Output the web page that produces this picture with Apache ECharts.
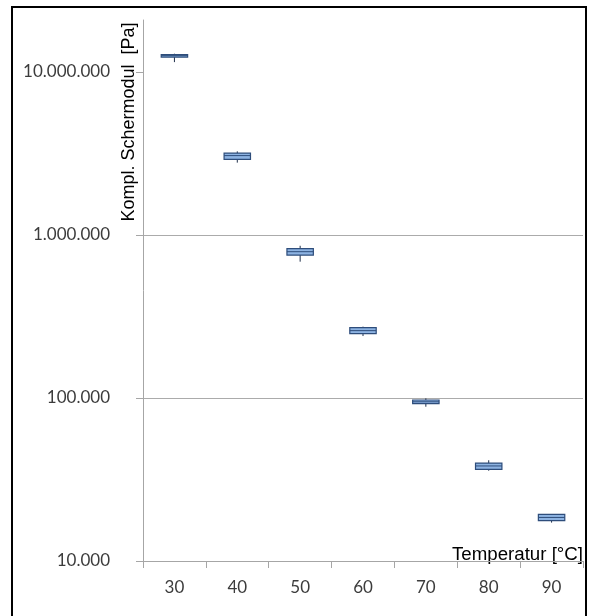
<!DOCTYPE html>
<html>
<head>
<meta charset="utf-8">
<script src="https://cdn.jsdelivr.net/npm/echarts@6/dist/echarts.min.js"></script>
<style>
  html, body { margin: 0; padding: 0; background: #ffffff; }
  #chart { width: 591px; height: 616px; }
</style>
</head>
<body>
<div id="chart"></div>
<script>
// Temperatures (°C) along the category axis
const temperatures = ['30', '40', '50', '60', '70', '80', '90'];

// Complex shear modulus [Pa] per temperature: min, Q1, median, Q3, max
const modulusMin    = [11500000, 2780000, 686000, 240000, 88400, 35800, 17200];
const modulusQ1     = [12350000, 2910000, 753000, 248000, 92300, 36500, 17700];
const modulusMedian = [12600000, 3070000, 790000, 259000, 94800, 38300, 18500];
const modulusQ3     = [12800000, 3180000, 824000, 270000, 97200, 39900, 19300];
const modulusMax    = [12950000, 3260000, 859000, 274000, 99500, 41500, 19400];

// Decade ticks of the logarithmic value axis
const yTicks = [10000, 100000, 1000000, 10000000];

const boxData = temperatures.map((t, i) => [
  i, modulusMin[i], modulusQ1[i], modulusMedian[i], modulusQ3[i], modulusMax[i]
]);

// German thousands separator: 10.000.000
function formatDE(v) {
  return Math.round(v).toString().replace(/\B(?=(\d{3})+(?!\d))/g, '.');
}

const chart = echarts.init(document.getElementById('chart'), null, { renderer: 'canvas' });

chart.setOption({
  animation: false,
  backgroundColor: '#ffffff',
  grid: { left: 143, right: 8, top: 20, bottom: 55, containLabel: false },
  xAxis: {
    type: 'category',
    data: temperatures,
    boundaryGap: true,
    axisLine: { show: true, lineStyle: { color: '#a6a6a6', width: 1 } },
    axisTick: { show: true, length: 7, alignWithLabel: false, lineStyle: { color: '#a6a6a6' } },
    axisLabel: { margin: 18, color: '#3c3c3c', fontFamily: 'Lato', fontSize: 17 },
    splitLine: { show: false }
  },
  yAxis: {
    type: 'log',
    logBase: 10,
    min: 10000,
    max: 20850000,
    axisLine: { show: true, lineStyle: { color: '#a6a6a6', width: 1 } },
    axisTick: { show: true, length: 7, customValues: yTicks, lineStyle: { color: '#a6a6a6' } },
    axisLabel: {
      customValues: yTicks,
      margin: 33,
      color: '#3c3c3c',
      fontFamily: 'Lato',
      fontSize: 17,
      formatter: formatDE
    },
    splitLine: { show: true, showMaxLine: false, lineStyle: { color: '#ababab', width: 1 } }
  },
  series: [{
    type: 'custom',
    data: boxData,
    encode: { x: 0, y: [1, 2, 3, 4, 5] },
    renderItem: function (params, api) {
      const cat = api.value(0);
      const pMin = api.coord([cat, api.value(1)]);
      const pQ1 = api.coord([cat, api.value(2)]);
      const pMed = api.coord([cat, api.value(3)]);
      const pQ3 = api.coord([cat, api.value(4)]);
      const pMax = api.coord([cat, api.value(5)]);
      const w = api.size([1, 0])[0] * 0.42;
      const x0 = pQ1[0] - w / 2;
      return {
        type: 'group',
        children: [
          {
            type: 'line',
            shape: { x1: pMin[0], y1: pMin[1], x2: pMax[0], y2: pMax[1] },
            style: { stroke: '#1f2f4a', lineWidth: 1 }
          },
          {
            type: 'rect',
            shape: { x: x0, y: pQ3[1], width: w, height: pQ1[1] - pQ3[1] },
            style: { fill: '#8db3e2', stroke: '#2e4d7b', lineWidth: 1.2 }
          },
          {
            type: 'line',
            shape: { x1: x0, y1: pMed[1], x2: x0 + w, y2: pMed[1] },
            style: { stroke: '#2e4d7b', lineWidth: 1 }
          }
        ]
      };
    }
  }],
  graphic: [
    {
      type: 'rect',
      silent: true,
      shape: { x: 12, y: 7, width: 574, height: 700 },
      style: { fill: null, stroke: '#000000', lineWidth: 2 }
    },
    {
      type: 'text',
      silent: true,
      x: 129,
      y: 122,
      rotation: Math.PI / 2,
      style: {
        text: 'Kompl. Schermodul  [Pa]',
        font: '18px "Liberation Sans", Arial, sans-serif',
        fill: '#000000',
        align: 'center',
        verticalAlign: 'middle'
      }
    },
    {
      type: 'text',
      silent: true,
      x: 583,
      y: 554.5,
      style: {
        text: 'Temperatur [°C]',
        font: '18.7px "Liberation Sans", Arial, sans-serif',
        fill: '#000000',
        align: 'right',
        verticalAlign: 'middle'
      }
    }
  ]
});
</script>
</body>
</html>
